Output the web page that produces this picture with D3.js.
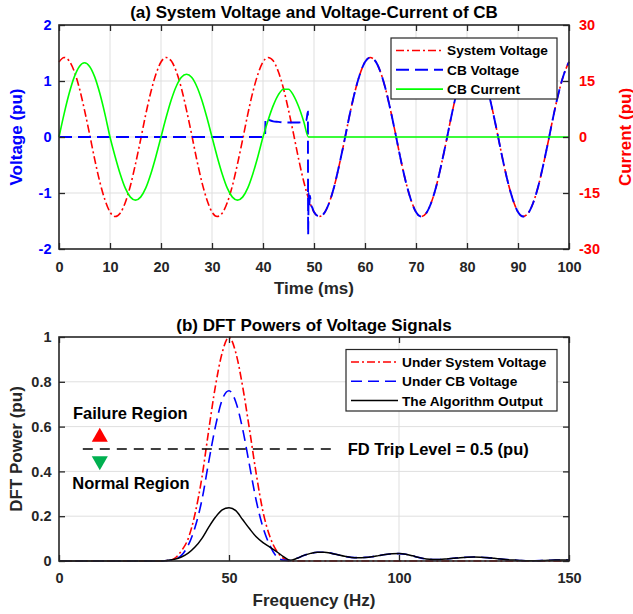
<!DOCTYPE html>
<html>
<head>
<meta charset="utf-8">
<script src="https://cdn.jsdelivr.net/npm/d3@7"></script>
<style>
  body { margin: 0; background: #fff; }
  svg { display: block; font-family: 'Liberation Sans', Arial, sans-serif; font-weight: bold; }
</style>
</head>
<body>
<div id="chart"></div>
<script>
// ---- (a) time domain, sampled every 1 ms ----
const timeMs = [
  0, 1, 2, 3, 4, 5, 6, 7, 8, 9, 10, 11, 12, 13, 14, 15, 16, 17, 18, 19,
  20, 21, 22, 23, 24, 25, 26, 27, 28, 29, 30, 31, 32, 33, 34, 35, 36, 37, 38, 39,
  40, 41, 42, 43, 44, 45, 46, 47, 48, 49, 50, 51, 52, 53, 54, 55, 56, 57, 58, 59,
  60, 61, 62, 63, 64, 65, 66, 67, 68, 69, 70, 71, 72, 73, 74, 75, 76, 77, 78, 79,
  80, 81, 82, 83, 84, 85, 86, 87, 88, 89, 90, 91, 92, 93, 94, 95, 96, 97, 98, 99, 100
];
const systemVoltage = [
  1.34, 1.42, 1.36, 1.17, 0.87, 0.48, 0.05, -0.40, -0.80, -1.12, -1.34, -1.42, -1.36, -1.17, -0.87, -0.48, -0.05, 0.40, 0.80, 1.12,
  1.34, 1.42, 1.36, 1.17, 0.87, 0.48, 0.05, -0.40, -0.80, -1.12, -1.34, -1.42, -1.36, -1.17, -0.87, -0.48, -0.05, 0.40, 0.80, 1.12,
  1.34, 1.42, 1.36, 1.17, 0.87, 0.48, 0.05, -0.40, -0.80, -1.12, -1.34, -1.42, -1.36, -1.17, -0.87, -0.48, -0.05, 0.40, 0.80, 1.12,
  1.34, 1.42, 1.36, 1.17, 0.87, 0.48, 0.05, -0.40, -0.80, -1.12, -1.34, -1.42, -1.36, -1.17, -0.87, -0.48, -0.05, 0.40, 0.80, 1.12,
  1.34, 1.42, 1.36, 1.17, 0.87, 0.48, 0.05, -0.40, -0.80, -1.12, -1.34, -1.42, -1.36, -1.17, -0.87, -0.48, -0.05, 0.40, 0.80, 1.12,
  1.34
];

const cbTimeMs = [
  0, 40.4, 40.5, 41, 42, 43, 44, 45, 46, 47, 48, 48.5, 48.8, 48.85, 48.95, 49.05, 49.2, 49.4, 49.7,
  50, 51, 52, 53, 54, 55, 56, 57, 58, 59, 60, 61, 62, 63, 64, 65, 66, 67, 68, 69,
  70, 71, 72, 73, 74, 75, 76, 77, 78, 79, 80, 81, 82, 83, 84, 85, 86, 87, 88, 89,
  90, 91, 92, 93, 94, 95, 96, 97, 98, 99, 100
];
const cbVoltage = [
  0, 0, 0.33, 0.31, 0.28, 0.27, 0.26, 0.26, 0.26, 0.26, 0.27, 0.30, 0.45, -1.75, -1.00, -1.25, -1.05, -1.20, -1.27,
  -1.34, -1.42, -1.36, -1.17, -0.87, -0.48, -0.05, 0.40, 0.80, 1.12, 1.34, 1.42, 1.36, 1.17, 0.87, 0.48, 0.05, -0.40, -0.80, -1.12,
  -1.34, -1.42, -1.36, -1.17, -0.87, -0.48, -0.05, 0.40, 0.80, 1.12, 1.34, 1.42, 1.36, 1.17, 0.87, 0.48, 0.05, -0.40, -0.80, -1.12,
  -1.34, -1.42, -1.36, -1.17, -0.87, -0.48, -0.05, 0.40, 0.80, 1.12, 1.34
];

const currentTimeMs = [
  0, 1, 2, 3, 4, 5, 6, 7, 8, 9, 10, 11, 12, 13, 14, 15, 16, 17, 18, 19,
  20, 21, 22, 23, 24, 25, 26, 27, 28, 29, 30, 31, 32, 33, 34, 35, 36, 37, 38, 39,
  40, 41, 42, 43, 44, 45, 46, 47, 48, 48.9, 100
];
const cbCurrent = [
  0, 6.2, 11.7, 16.1, 18.9, 19.9, 18.9, 16.1, 11.7, 6.2, 0, -5.2, -9.9, -13.7, -16.1, -16.9, -16.1, -13.7, -9.9, -5.2,
  0, 5.2, 9.9, 13.6, 16.0, 16.8, 16.0, 13.6, 9.9, 5.2, 0, -5.2, -9.9, -13.7, -16.1, -16.9, -16.1, -13.7, -9.9, -5.2,
  0, 4.5, 8.4, 11.3, 12.8, 12.8, 11.1, 8.1, 4.1, 0, 0
];

// ---- (b) DFT powers, every 2 Hz ----
const freqHz = [
  0, 2, 4, 6, 8, 10, 12, 14, 16, 18, 20, 22, 24, 26, 28, 30,
  32, 34, 36, 38, 40, 42, 44, 46, 48, 50, 52, 54, 56, 58, 60, 62, 64, 66, 68,
  70, 72, 74, 76, 78, 80, 82, 84, 86, 88, 90, 92, 94, 96, 98, 100, 102, 104, 106, 108, 110,
  112, 114, 116, 118, 120, 122, 124, 126, 128, 130, 132, 134, 136, 138, 140, 142, 144, 146, 148, 150
];
const powerSystem = [
  0, 0, 0, 0, 0, 0, 0, 0, 0, 0, 0, 0, 0, 0, 0, 0,
  0.002, 0.012, 0.045, 0.10, 0.21, 0.37, 0.58, 0.78, 0.93, 1.0, 0.93, 0.78, 0.59, 0.39, 0.22, 0.11, 0.045, 0.012, 0,
  0, 0, 0, 0, 0, 0, 0, 0, 0, 0, 0, 0, 0, 0, 0, 0, 0, 0, 0, 0, 0,
  0, 0, 0, 0, 0, 0, 0, 0, 0, 0, 0, 0, 0, 0, 0, 0, 0, 0, 0, 0
];
const powerCb = [
  0, 0, 0, 0, 0, 0, 0, 0, 0, 0, 0, 0, 0, 0, 0, 0,
  0.002, 0.008, 0.025, 0.07, 0.15, 0.27, 0.44, 0.60, 0.72, 0.76, 0.71, 0.59, 0.43, 0.27, 0.15, 0.07, 0.02, 0.004, 0.002,
  0.012, 0.025, 0.034, 0.039, 0.039, 0.035, 0.028, 0.021, 0.016, 0.015, 0.016, 0.019, 0.024, 0.029, 0.032, 0.033, 0.030, 0.023, 0.015, 0.009, 0.007,
  0.007, 0.009, 0.012, 0.015, 0.017, 0.018, 0.017, 0.015, 0.012, 0.009, 0.006, 0.004, 0.002, 0.001, 0.001, 0.002, 0.003, 0.004, 0.004, 0.004
];
const powerAlgorithm = [
  0, 0, 0, 0, 0, 0, 0, 0, 0, 0, 0, 0, 0, 0, 0, 0,
  0.003, 0.008, 0.018, 0.035, 0.062, 0.10, 0.15, 0.195, 0.228, 0.238, 0.225, 0.185, 0.145, 0.108, 0.082, 0.062, 0.042, 0.02, 0.003,
  0.012, 0.025, 0.034, 0.039, 0.039, 0.035, 0.028, 0.021, 0.016, 0.015, 0.016, 0.019, 0.024, 0.029, 0.032, 0.033, 0.030, 0.023, 0.015, 0.009, 0.007,
  0.007, 0.009, 0.012, 0.015, 0.017, 0.018, 0.017, 0.015, 0.012, 0.009, 0.006, 0.004, 0.002, 0.001, 0.001, 0.002, 0.003, 0.004, 0.004, 0.004
];
const tripLevel = 0.5;
const tripSpanHz = [7, 80];

// ---- ticks ----
const timeTicks = [0, 10, 20, 30, 40, 50, 60, 70, 80, 90, 100];
const voltageTicks = [-2, -1, 0, 1, 2];
const currentTicks = [-30, -15, 0, 15, 30];
const freqTicks = [0, 50, 100, 150];
const powerTicks = [0, 0.2, 0.4, 0.6, 0.8, 1];

const W = 633, H = 614;
const axisColor = '#262626';
const gridColor = '#dfdfdf';

const topBox = {left: 59, right: 569, top: 25, bottom: 249};
const botBox = {left: 59, right: 569, top: 337, bottom: 561};

const svg = d3.select('#chart').append('svg')
    .attr('width', W)
    .attr('height', H);

const xTime = d3.scaleLinear().domain([0, 100]).range([topBox.left, topBox.right]);
const yVolt = d3.scaleLinear().domain([-2, 2]).range([topBox.bottom, topBox.top]);
const yCurr = d3.scaleLinear().domain([-30, 30]).range([topBox.bottom, topBox.top]);
const xFreq = d3.scaleLinear().domain([0, 150]).range([botBox.left, botBox.right]);
const yPow = d3.scaleLinear().domain([0, 1]).range([botBox.bottom, botBox.top]);

function drawGrid(box, x, xTicks, y, yTicks) {
  const g = svg.append('g').attr('class', 'grid');
  g.selectAll('line.gx')
      .data(xTicks.slice(1, -1))
    .enter().append('line')
      .attr('x1', d => x(d)).attr('x2', d => x(d))
      .attr('y1', box.top).attr('y2', box.bottom)
      .attr('stroke', gridColor).attr('stroke-width', 1);
  g.selectAll('line.gy')
      .data(yTicks.slice(1, -1))
    .enter().append('line')
      .attr('y1', d => y(d)).attr('y2', d => y(d))
      .attr('x1', box.left).attr('x2', box.right)
      .attr('stroke', gridColor).attr('stroke-width', 1);
}

function styleAxis(g, color, size) {
  g.select('.domain').remove();
  g.selectAll('.tick line').attr('stroke', axisColor).attr('stroke-width', 1.3);
  g.selectAll('.tick text')
      .attr('fill', color)
      .style('font-size', `${size}px`)
      .style('font-weight', 'bold')
      .style('font-family', "'Liberation Sans', Arial, sans-serif");
}

function drawBox(box) {
  svg.append('rect')
      .attr('x', box.left).attr('y', box.top)
      .attr('width', box.right - box.left)
      .attr('height', box.bottom - box.top)
      .attr('fill', 'none')
      .attr('stroke', axisColor)
      .attr('stroke-width', 1.6);
}

function drawLine(data, x, y, color, width, dash, clipId) {
  const line = d3.line()
      .x(d => x(d[0]))
      .y(d => y(d[1]))
      .curve(d3.curveMonotoneX);
  svg.append('path')
      .datum(data)
      .attr('clip-path', `url(#${clipId})`)
      .attr('fill', 'none')
      .attr('stroke', color)
      .attr('stroke-width', width)
      .attr('stroke-dasharray', dash)
      .attr('d', line);
}

function addClip(id, box) {
  svg.append('clipPath').attr('id', id)
    .append('rect')
      .attr('x', box.left - 1).attr('y', box.top - 1)
      .attr('width', box.right - box.left + 2)
      .attr('height', box.bottom - box.top + 2);
}

function drawLegend(box, items, sampleW, textX) {
  const g = svg.append('g');
  g.append('rect')
      .attr('x', box.x).attr('y', box.y)
      .attr('width', box.w).attr('height', box.h)
      .attr('fill', '#fff')
      .attr('stroke', axisColor)
      .attr('stroke-width', 1.2);
  items.forEach((it, i) => {
    const cy = box.y + 12.5 + i * 19.3;
    g.append('line')
        .attr('x1', box.x + 5).attr('x2', box.x + 5 + sampleW)
        .attr('y1', cy).attr('y2', cy)
        .attr('stroke', it.color)
        .attr('stroke-width', it.width)
        .attr('stroke-dasharray', it.dash);
    g.append('text')
        .attr('x', textX).attr('y', cy)
        .attr('dy', '0.36em')
        .attr('fill', '#000')
        .style('font-size', '13.7px')
        .text(it.label);
  });
}

const dashDot = '8,3,2,3';
const dashedTop = '13,6';
const dashedBot = '11,6';

// ===== (a) =====
addClip('clip-a', topBox);
drawGrid(topBox, xTime, timeTicks, yVolt, voltageTicks);

const zipA = (xs, ys) => xs.map((t, i) => [t, ys[i]]);
drawLine(zipA(timeMs, systemVoltage), xTime, yVolt, '#ff0000', 1.6, dashDot, 'clip-a');
drawLine(zipA(cbTimeMs, cbVoltage), xTime, yVolt, '#0000ff', 1.9, dashedTop, 'clip-a');
drawLine(zipA(currentTimeMs, cbCurrent), xTime, yCurr, '#00ff00', 1.6, null, 'clip-a');

svg.append('g')
    .attr('transform', `translate(0,${topBox.bottom})`)
    .call(d3.axisBottom(xTime).tickValues(timeTicks).tickSizeInner(-6).tickSizeOuter(0)
      .tickPadding(13).tickFormat(d => String(d)))
    .call(g => styleAxis(g, axisColor, 14.5));
svg.append('g')
    .attr('transform', `translate(0,${topBox.top})`)
    .call(d3.axisTop(xTime).tickValues(timeTicks).tickSizeInner(-6).tickSizeOuter(0).tickFormat(''))
    .call(g => styleAxis(g, axisColor, 14.5));
svg.append('g')
    .attr('transform', `translate(${topBox.left},0)`)
    .call(d3.axisLeft(yVolt).tickValues(voltageTicks).tickSizeInner(-6).tickSizeOuter(0)
      .tickPadding(7.5).tickFormat(d => String(d)))
    .call(g => styleAxis(g, '#0000ff', 14.5));
svg.append('g')
    .attr('transform', `translate(${topBox.right},0)`)
    .call(d3.axisRight(yCurr).tickValues(currentTicks).tickSizeInner(-6).tickSizeOuter(0)
      .tickPadding(10).tickFormat(d => String(d)))
    .call(g => styleAxis(g, '#ff0000', 14.5));
drawBox(topBox);

drawLegend({x: 391, y: 38, w: 166, h: 61}, [
  {label: 'System Voltage', color: '#ff0000', width: 1.6, dash: dashDot},
  {label: 'CB Voltage', color: '#0000ff', width: 1.9, dash: dashedTop},
  {label: 'CB Current', color: '#00ff00', width: 1.6, dash: null}
], 47, 447);

svg.append('text')
    .attr('x', (topBox.left + topBox.right) / 2).attr('y', 18)
    .attr('text-anchor', 'middle')
    .style('font-size', '17px')
    .attr('fill', '#000')
    .text('(a) System Voltage and Voltage-Current of CB');
svg.append('text')
    .attr('x', (topBox.left + topBox.right) / 2).attr('y', 294)
    .attr('text-anchor', 'middle')
    .style('font-size', '17px')
    .attr('fill', axisColor)
    .text('Time (ms)');
svg.append('text')
    .attr('transform', `translate(21.5,${(topBox.top + topBox.bottom) / 2}) rotate(-90)`)
    .attr('text-anchor', 'middle')
    .style('font-size', '17px')
    .attr('fill', '#0000ff')
    .text('Voltage (pu)');
svg.append('text')
    .attr('transform', `translate(630.5,${(topBox.top + topBox.bottom) / 2}) rotate(-90)`)
    .attr('text-anchor', 'middle')
    .style('font-size', '17px')
    .attr('fill', '#ff0000')
    .text('Current (pu)');

// ===== (b) =====
addClip('clip-b', botBox);
drawGrid(botBox, xFreq, freqTicks, yPow, powerTicks);

drawLine(zipA(freqHz, powerSystem), xFreq, yPow, '#ff0000', 1.6, dashDot, 'clip-b');
drawLine(zipA(freqHz, powerCb), xFreq, yPow, '#0000ff', 1.6, dashedBot, 'clip-b');
drawLine(zipA(freqHz, powerAlgorithm), xFreq, yPow, '#000000', 1.5, null, 'clip-b');

// trip level
svg.append('line')
    .attr('x1', xFreq(tripSpanHz[0])).attr('x2', xFreq(tripSpanHz[1]))
    .attr('y1', yPow(tripLevel)).attr('y2', yPow(tripLevel))
    .attr('stroke', '#000')
    .attr('stroke-width', 1.5)
    .attr('stroke-dasharray', '10,7');

svg.append('g')
    .attr('transform', `translate(0,${botBox.bottom})`)
    .call(d3.axisBottom(xFreq).tickValues(freqTicks).tickSizeInner(-6).tickSizeOuter(0)
      .tickPadding(11.5).tickFormat(d => String(d)))
    .call(g => styleAxis(g, axisColor, 14.5));
svg.append('g')
    .attr('transform', `translate(0,${botBox.top})`)
    .call(d3.axisTop(xFreq).tickValues(freqTicks).tickSizeInner(-6).tickSizeOuter(0).tickFormat(''))
    .call(g => styleAxis(g, axisColor, 14.5));
svg.append('g')
    .attr('transform', `translate(${botBox.left},0)`)
    .call(d3.axisLeft(yPow).tickValues(powerTicks).tickSizeInner(-6).tickSizeOuter(0)
      .tickPadding(7.5).tickFormat(d => String(d)))
    .call(g => styleAxis(g, axisColor, 14.5));
svg.append('g')
    .attr('transform', `translate(${botBox.right},0)`)
    .call(d3.axisRight(yPow).tickValues(powerTicks).tickSizeInner(-6).tickSizeOuter(0).tickFormat(''))
    .call(g => styleAxis(g, axisColor, 14.5));
drawBox(botBox);

drawLegend({x: 346, y: 349.5, w: 211, h: 61.5}, [
  {label: 'Under System Voltage', color: '#ff0000', width: 1.6, dash: dashDot},
  {label: 'Under CB Voltage', color: '#0000ff', width: 1.6, dash: dashedBot},
  {label: 'The Algorithm Output', color: '#000000', width: 1.5, dash: null}
], 47, 402);

// region markers and notes
const triangle = d3.symbol().type(d3.symbolTriangle).size(112);
svg.append('path')
    .attr('d', triangle)
    .attr('transform', `translate(${xFreq(12)},${yPow(0.553)})`)
    .attr('fill', '#ff0000');
svg.append('path')
    .attr('d', triangle)
    .attr('transform', `translate(${xFreq(12)},${yPow(0.447)}) rotate(180)`)
    .attr('fill', '#00b050');

const note = (x, y, txt) => svg.append('text')
    .attr('x', xFreq(x)).attr('y', yPow(y))
    .style('font-size', '16.5px')
    .attr('fill', '#000')
    .text(txt);
note(4.1, 0.636, 'Failure Region');
note(3.9, 0.322, 'Normal Region');
note(84.9, 0.475, 'FD Trip Level = 0.5 (pu)');

svg.append('text')
    .attr('x', (botBox.left + botBox.right) / 2).attr('y', 330.5)
    .attr('text-anchor', 'middle')
    .style('font-size', '17px')
    .attr('fill', '#000')
    .text('(b) DFT Powers of Voltage Signals');
svg.append('text')
    .attr('x', (botBox.left + botBox.right) / 2).attr('y', 605.5)
    .attr('text-anchor', 'middle')
    .style('font-size', '17px')
    .attr('fill', axisColor)
    .text('Frequency (Hz)');
svg.append('text')
    .attr('transform', `translate(21.5,${(botBox.top + botBox.bottom) / 2}) rotate(-90)`)
    .attr('text-anchor', 'middle')
    .style('font-size', '17px')
    .attr('fill', axisColor)
    .text('DFT Power (pu)');
</script>
</body>
</html>
